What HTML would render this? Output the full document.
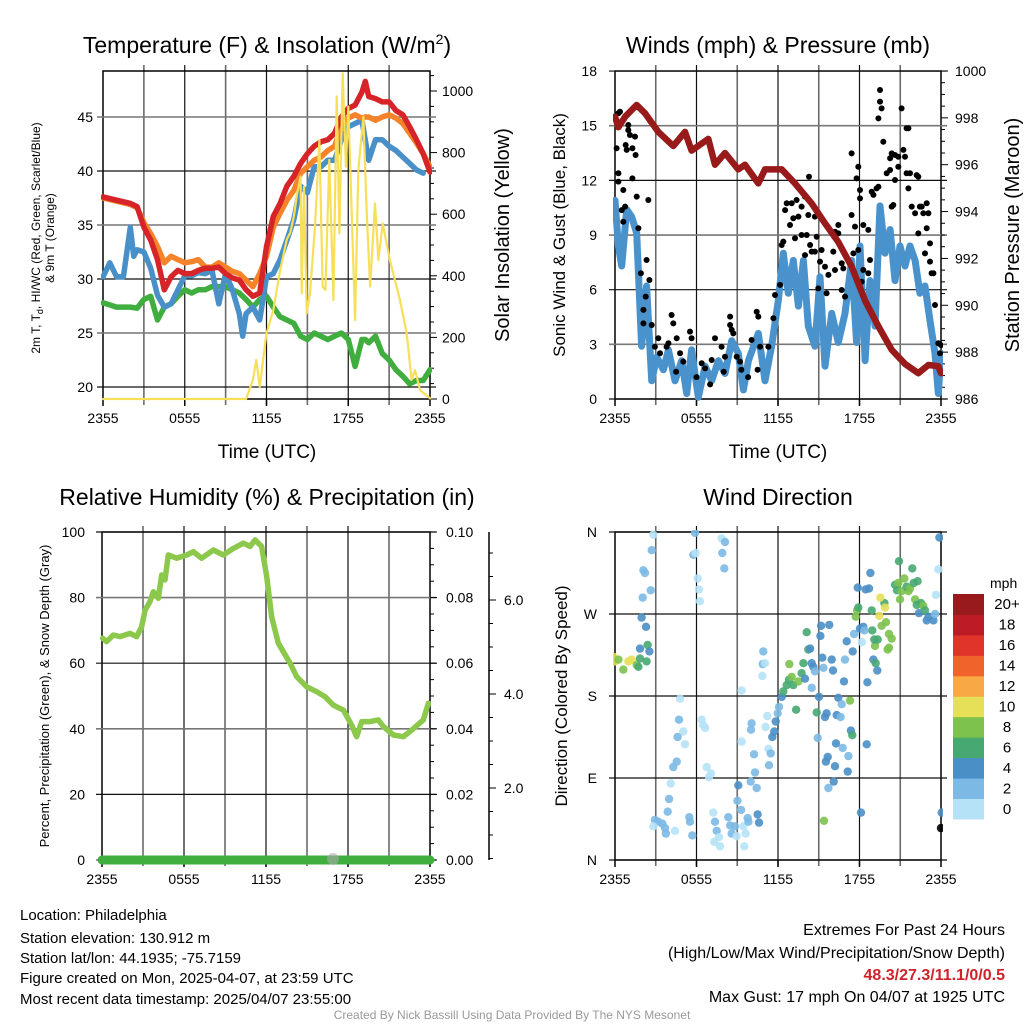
<!DOCTYPE html>
<html><head><meta charset="utf-8"><style>
html,body{margin:0;padding:0;background:#fff;}
svg{display:block;font-family:"Liberation Sans",Arial,sans-serif;}
</style></head><body>
<svg id="root" width="1024" height="1024" viewBox="0 0 1024 1024" xmlns="http://www.w3.org/2000/svg">
<rect x="0" y="0" width="1024" height="1024" fill="#fff"/>
<text x="267" y="53" font-size="23" text-anchor="middle">Temperature (F) &amp; Insolation (W/m<tspan font-size="14" dy="-9">2</tspan><tspan dy="9">)</tspan></text>
<text x="778" y="53" font-size="23" text-anchor="middle">Winds (mph) &amp; Pressure (mb)</text>
<text x="267" y="505" font-size="23" text-anchor="middle">Relative Humidity (%) &amp; Precipitation (in)</text>
<text x="778" y="505" font-size="23" text-anchor="middle">Wind Direction</text>
<text transform="translate(40,238) rotate(-90)" font-size="12" text-anchor="middle">2m T, T<tspan font-size="9" dy="3">d</tspan><tspan dy="-3">, HI/WC (Red, Green, Scarlet/Blue)</tspan></text>
<text transform="translate(54,238) rotate(-90)" font-size="12" text-anchor="middle">&amp; 9m T (Orange)</text>
<text transform="translate(509,235) rotate(-90)" font-size="20" text-anchor="middle">Solar Insolation (Yellow)</text>
<text transform="translate(565,235) rotate(-90)" font-size="17" text-anchor="middle">Sonic Wind &amp; Gust (Blue, Black)</text>
<text transform="translate(1019,235) rotate(-90)" font-size="20" text-anchor="middle">Station Pressure (Maroon)</text>
<text transform="translate(49,696) rotate(-90)" font-size="13" text-anchor="middle">Percent, Precipitation (Green), &amp; Snow Depth (Gray)</text>
<text transform="translate(567,696) rotate(-90)" font-size="17" text-anchor="middle">Direction (Colored By Speed)</text>
<text x="267" y="458" font-size="19" text-anchor="middle">Time (UTC)</text>
<text x="778" y="458" font-size="19" text-anchor="middle">Time (UTC)</text>
<g font-size="15">
<text x="20" y="920">Location: Philadelphia</text>
<text x="20" y="943">Station elevation: 130.912 m</text>
<text x="20" y="963">Station lat/lon: 44.1935; -75.7159</text>
<text x="20" y="983">Figure created on Mon, 2025-04-07, at 23:59 UTC</text>
<text x="20" y="1004">Most recent data timestamp: 2025/04/07 23:55:00</text>
</g>
<g font-size="16" text-anchor="end">
<text x="1005" y="935">Extremes For Past 24 Hours</text>
<text x="1005" y="958">(High/Low/Max Wind/Precipitation/Snow Depth)</text>
<text x="1005" y="980" fill="#d0222a" font-weight="bold">48.3/27.3/11.1/0/0.5</text>
<text x="1005" y="1002">Max Gust: 17 mph On 04/07 at 1925 UTC</text>
</g>
<text x="512" y="1019" font-size="12" fill="#999" text-anchor="middle">Created By Nick Bassill Using Data Provided By The NYS Mesonet</text>
</svg>
<script>
// ---------- DATA ----------
const tickHourLabels = ["2355","0555","1155","1755","2355"];
const tempLeftTicks = [20,25,30,35,40,45];
const solarTicks = [0,200,400,600,800,1000];
const windTicks = [0,3,6,9,12,15,18];
const presTicks = [986,988,990,992,994,996,998,1000];
const rhTicks = [0,20,40,60,80,100];
const precipTicks = ["0.00","0.02","0.04","0.06","0.08","0.10"];
const snowTicks = ["2.0","4.0","6.0"];
const dirTicks = ["N","E","S","W","N"];
const speedBinLabels = ["0","2","4","6","8","10","12","14","16","18","20+"];
const speedBinColors = ["#b6e2f7","#7cb9e4","#4b8fc7","#47a872","#7cc24c","#e6e058","#f8a845","#f0632a","#e0342a","#bd1c24","#981a1d"];

const tempHours = [0,1,2,2.5,3,3.5,4,4.5,5,5.5,6,6.5,7,7.5,8,8.5,9,9.5,10,10.5,11,11.5,12,12.5,13,13.5,14,14.5,15,15.5,16,16.5,17,17.5,18,18.5,19,19.25,19.5,20,20.5,21,21.5,22,22.5,23,23.5,24];
const redTemp = [37.6,37.3,37.0,36.7,34.8,33.6,31.8,29.0,30.2,30.8,30.5,30.5,30.8,31.0,31.0,31.1,30.5,30.1,29.9,29.0,28.4,28.7,33.0,35.8,37.0,38.6,39.5,40.7,41.6,42.3,42.7,42.9,43.5,45.0,45.8,46.1,47.3,48.3,46.9,46.7,46.4,46.4,45.6,45.2,44.1,42.9,41.6,39.9];
const orangeTemp = [37.5,37.2,36.9,36.6,35.2,34.2,33.0,31.5,32.1,31.8,31.5,31.6,31.8,31.1,31.1,31.5,31.1,30.7,30.5,29.9,29.3,30.5,32.1,34.8,36.1,37.3,38.2,39.8,40.4,41.0,41.3,41.9,42.3,44.1,44.9,45.2,44.9,45.0,45.0,44.7,45.0,45.2,44.9,44.4,43.5,42.6,41.6,40.4];
const blueHours = [0,0.5,1,1.5,2,2.25,2.5,3,3.5,4,4.5,5,5.5,6,6.5,7,7.5,8,8.5,9,9.5,10,10.25,10.5,11,11.5,12,12.5,13,13.5,14,14.5,15,15.5,16,16.5,17,17.5,18,18.5,19,19.5,20,20.5,21,21.5,22,22.5,23,23.5];
const blueTemp = [30.2,31.5,30.2,30.2,34.8,32.1,32.7,32.5,31.0,28.5,27.4,27.7,29.0,30.3,30.3,30.6,30.5,30.8,27.7,30.5,29.0,26.8,24.7,26.8,27.4,26.2,30.2,30.5,31.8,33.6,35.5,38.6,38.0,40.4,40.4,41.0,41.0,42.9,44.1,44.4,44.7,41.0,42.9,42.9,42.3,41.9,41.3,40.7,40.1,39.8];
const greenTemp = [27.8,27.4,27.4,27.3,28.1,28.4,26.2,27.4,27.7,28.4,29.0,28.7,29.0,29.0,29.3,29.3,29.3,29.0,28.7,28.1,27.4,28.1,28.4,27.4,26.5,26.2,25.9,24.7,24.4,25.0,24.7,24.4,24.7,25.0,24.4,21.9,24.4,24.4,24.1,24.7,23.1,22.5,21.6,21.0,20.3,20.6,20.6,21.6];
const solarHours = [0,10.5,11,11.25,11.5,11.75,12,12.5,13,13.5,13.75,14,14.25,14.5,14.58,14.75,14.95,15.19,15.56,15.88,16.12,16.32,16.61,16.91,17.15,17.35,17.59,17.83,18.0,18.25,18.5,18.74,19.11,19.35,19.6,19.96,20.21,20.53,21.06,21.8,22.29,22.65,22.9,23.27,24];
const solarValues = [0,0,62,127,40,127,213,288,418,519,540,592,668,722,343,689,278,343,560,841,365,354,776,321,982,538,1057,754,949,603,256,743,917,614,365,635,451,570,451,321,213,62,94,29,2];

const windHours = [0,0.25,0.49,0.86,1.23,1.6,1.96,2.33,2.7,3.07,3.56,3.93,4.42,4.91,5.28,5.64,6.13,6.63,7.12,7.61,8.1,8.59,9.08,9.45,9.82,10.55,11.04,11.53,12.02,12.39,12.76,13.13,13.5,13.87,14.23,14.72,15.09,15.46,15.95,16.44,16.93,17.42,17.79,18.04,18.41,18.77,19.14,19.51,19.88,20.25,20.61,20.98,21.35,21.72,22.09,22.45,22.82,23.19,23.56,23.8,24];
const windSpeed = [10.9,8.4,7.3,10.4,10.0,9.1,2.9,6.2,1.0,2.3,1.6,2.7,1.0,2.1,0.3,2.7,0.1,1.8,1.0,2.1,1.4,3.2,2.5,0.5,2.1,3.6,1.0,2.9,5.4,8.0,5.8,7.6,5.1,7.6,4.0,2.9,6.7,1.8,4.7,3.1,4.7,7.6,3.1,8.4,2.1,6.5,4.0,10.6,8.0,9.3,6.5,8.4,7.3,8.4,7.6,5.8,6.2,4.3,2.5,0.3,2.5];
const gustHours = [0.25,0.37,0.12,0.25,0.25,0.61,0.49,0.61,0.74,0.79,0.98,0.98,1.10,0.86,1.28,1.47,1.52,1.28,1.60,1.72,2.45,2.33,1.91,2.53,2.26,2.09,2.09,2.70,3.19,2.94,3.31,3.93,3.80,4.17,4.29,4.54,4.79,5.03,5.52,5.64,6.38,6.63,7.12,7.36,7.85,8.10,8.47,8.47,8.59,8.71,8.96,9.20,10.06,10.43,10.55,10.68,11.29,11.66,11.78,12.15,12.27,12.39,12.52,12.64,13.01,13.37,13.74,13.99,14.28,12.88,13.13,13.50,13.25,13.74,14.11,14.36,13.99,14.48,14.85,14.72,14.23,14.72,15.21,15.09,15.46,15.71,16.20,16.44,16.20,16.07,16.69,16.81,16.44,17.42,17.79,17.91,18.04,18.04,17.42,17.67,18.28,18.65,18.77,18.28,18.65,17.91,17.55,14.97,15.58,16.69,16.93,18.16,18.90,19.02,19.26,19.39,19.39,19.63,19.51,19.51,19.75,20.25,20.37,20.25,20.00,20.61,20.86,20.86,20.61,20.37,20.49,21.10,21.23,21.35,21.47,21.60,21.47,21.72,21.60,21.84,22.09,22.21,22.33,22.45,22.58,22.70,22.95,23.07,22.95,22.33,23.19,22.82,23.19,23.31,23.44,23.56,23.80,24.0,23.93,4.5,6.0,7.0,8.0,9.3,9.8,10.5];
const gustSpeed = [15.68,15.77,13.76,12.39,11.93,11.47,10.37,9.73,10.56,13.94,15.04,14.76,14.49,13.67,13.76,14.40,13.39,12.11,11.11,9.37,10.92,7.63,6.90,6.53,5.62,4.89,4.15,4.06,3.33,2.87,2.51,3.06,2.87,4.61,4.15,3.33,2.51,2.05,3.70,3.33,1.96,1.68,2.14,3.33,2.87,2.32,4.52,4.06,3.79,3.60,2.32,2.05,3.24,4.79,4.52,2.87,2.87,4.43,5.71,6.26,8.45,8.64,10.37,10.74,10.74,10.92,10.56,11.11,12.20,9.55,9.92,10.01,8.82,9.00,9.00,8.45,7.90,8.09,8.91,10.01,10.10,8.09,8.18,7.54,7.26,6.81,7.08,9.09,9.18,8.09,7.45,7.17,9.55,13.48,12.11,12.75,11.47,11.01,10.10,9.46,9.55,9.28,7.63,7.08,6.90,8.18,7.99,6.07,5.80,5.98,5.62,6.44,11.38,11.20,11.56,11.65,15.40,15.95,16.32,16.96,14.12,13.21,13.48,12.57,12.39,13.39,13.30,12.75,12.02,10.56,10.65,15.95,13.67,13.30,14.86,14.86,12.39,12.39,11.56,10.56,10.19,12.29,12.20,10.56,10.56,10.19,10.74,10.19,9.37,9.09,8.54,7.99,7.54,6.90,6.90,5.16,3.06,2.96,2.51,1.5,1.2,0.8,1.5,1.6,1.2,1.6];
const presHours = [0,0.25,0.74,1.59,2.21,3.19,4.29,5.15,5.64,6.87,7.36,8.1,9.08,9.57,10.55,11.04,12.27,13.25,14.48,15.46,16.44,17.42,18.41,19.39,20.37,21.35,22.33,23.07,23.8,24];
const presValues = [998.05,997.6,998.05,998.55,998.2,997.4,996.8,997.4,996.6,997.1,996.0,996.5,995.8,996.0,995.2,995.8,995.8,995.2,994.35,993.5,992.7,991.65,990.2,989.1,988.1,987.5,987.1,987.45,987.4,987.1];

const rhHours = [0.05,0.34,0.83,1.32,2.05,2.54,2.9,3.15,3.51,3.76,4.12,4.37,4.61,4.85,5.46,6.2,6.68,7.29,8.15,8.88,9.61,10.34,10.83,11.2,11.68,12.05,12.41,12.9,13.76,14.24,14.98,15.71,16.32,16.93,17.66,18.27,18.63,19.0,19.61,20.22,20.58,21.32,22.05,22.66,23.51,23.88];
const rhValues = [67.6,66.6,68.6,68.1,69.1,68.1,71.1,76.2,78.8,81.8,79.8,86.9,85.4,93.0,92.0,93.0,94.0,92.0,94.5,93.0,95.0,96.6,95.6,97.6,95.6,86.4,74.2,66.1,60.0,55.9,52.8,51.3,49.8,47.2,45.7,41.1,37.6,42.2,42.2,42.7,40.7,38.1,37.6,39.6,42.7,47.8];
const precipHours = [0,24];
const precipValues = [0,0];

const dirHours = [-0.12,0,0.25,0.61,0.98,1.23,1.6,1.72,1.84,2.33,2.4,1.84,2.53,2.28,1.96,2.82,2.7,2.09,2.21,2.63,2.04,5.89,5.77,5.94,6.09,6.18,6.26,7.85,8.1,7.9,8.05,4.79,4.71,5.03,4.61,5.15,6.38,6.5,6.63,4.54,4.29,4.1,3.98,3.88,2.94,3.19,3.48,3.68,2.82,3.75,4.42,5.47,5.52,5.69,6.75,6.92,7.07,7.24,7.36,7.49,7.31,7.73,7.66,8.34,8.47,8.59,8.83,8.96,9.08,9.01,9.28,9.45,9.62,9.52,9.77,9.82,10.5,10.6,9.33,9.33,9.99,10.43,10.31,10.23,10.01,10.06,11.09,11.21,11.29,11.46,11.34,10.87,11.04,10.85,10.92,11.58,11.73,11.83,11.98,12.07,12.27,12.39,12.64,12.81,13.01,13.13,13.5,13.74,13.87,14.23,14.11,12.83,13.33,13.99,14.36,14.48,14.6,14.72,14.48,15.02,14.85,14.92,15.12,15.17,15.26,15.34,15.78,15.95,16.05,15.46,15.58,15.66,15.53,16.2,16.27,16.44,16.69,16.32,16.61,16.76,17.18,17.13,16.86,16.93,17.06,17.5,17.6,17.3,17.37,17.47,17.87,17.72,17.82,17.91,18.04,18.28,18.36,18.18,18.45,18.7,18.8,18.9,18.94,19.14,19.09,19.34,19.02,19.19,19.31,18.58,18.53,18.11,16.1,15.71,15.39,19.83,19.88,19.53,19.46,19.63,19.95,20.17,20.37,20.17,20.07,20.91,20.61,20.86,20.76,20.98,21.1,21.3,21.6,21.47,21.72,21.99,21.89,22.28,22.09,22.21,22.53,22.7,22.38,22.82,22.95,23.07,23.44,23.56,23.63,23.8,23.88,24.05,24.0];
const dirDegs = [223,218,220,209,218,220,214,212,221,218,236,232,229,256,266,357,340,318,315,296,288,359,335,337,309,297,284,353,349,337,320,177,154,141,135,127,154,148,145,108,102,84,67,53,44,42,40,35,37,29,32,47,42,27,102,91,95,52,42,32,20,15,25,47,38,29,37,26,82,65,55,37,29,15,46,42,50,41,186,130,86,79,96,116,143,150,146,158,122,117,104,215,216,202,229,135,141,152,161,168,179,185,192,198,201,192,196,205,216,231,250,215,165,199,232,216,212,207,189,179,162,134,246,257,222,211,258,220,208,157,161,113,108,103,128,178,171,159,157,123,114,97,196,220,240,229,248,175,142,137,299,267,274,277,254,256,252,239,297,298,315,274,252,235,242,242,220,216,208,195,127,52,86,79,43,282,277,288,268,257,261,248,243,233,231,328,302,304,296,286,295,309,295,300,298,304,320,306,286,280,282,279,271,274,263,267,263,270,291,319,354,52,35];
const dirSpeeds = [11,11,9,9,11,11,9,7,7,7,7,5,5,5,5,1,3,3,3,3,3,3,3,1,1,1,1,1,3,3,3,1,3,1,3,1,1,1,1,3,3,1,3,3,3,3,3,3,1,3,1,3,3,3,1,1,1,1,3,3,1,1,1,3,3,3,3,1,5,3,3,1,1,1,3,3,5,5,1,1,3,3,3,3,3,3,1,1,1,3,3,3,1,1,3,5,5,5,3,3,5,7,7,7,9,7,9,7,7,7,7,9,7,5,5,5,5,3,3,5,7,3,5,5,5,3,5,5,5,5,5,5,5,5,5,5,3,5,3,3,3,5,5,3,5,5,3,9,5,7,5,9,9,7,5,5,3,1,5,5,5,7,7,9,7,7,5,7,5,5,5,5,5,3,9,7,11,11,11,9,9,9,9,9,9,7,7,9,7,9,9,9,9,7,9,7,6,7,9,7,7,9,5,7,5,5,5,3,1,1,5,5];

// ---------- HELPERS ----------
const NS = "http://www.w3.org/2000/svg";
const root = document.getElementById("root");
function mk(tag, parent, attrs){ const e=document.createElementNS(NS,tag); for(const k in attrs) e.setAttribute(k,attrs[k]); parent.appendChild(e); return e; }

const P1 = {x0:103,x1:430,y0:71,y1:399};
const P2 = {x0:615,x1:941,y0:71,y1:399};
const P3 = {x0:102,x1:430,y0:532,y1:860};
const P4 = {x0:615,x1:941,y0:532,y1:860};
const hx = P => h => P.x0 + h*(P.x1-P.x0)/24;
const x1 = hx(P1), x2 = hx(P2), x3 = hx(P3), x4 = hx(P4);
const tempY = v => 117 + (45 - v)*10.8;
const solarY = w => 399 - w*0.308;
const windY = v => 399 - v*18.22;
const presY = p => 399 - (p-986)*23.43;
const rhY = r => 860 - r*3.28;
const precipY = p => 860 - p*3280;
const dirY = d => 860 - d*328/360;

function frame(P, name){
  const g = mk("g", root, {});
  
  
  for(let i=1;i<8;i++){
    const x = P.x0 + i*(P.x1-P.x0)/8;
    const l = mk("line", g, {x1:x,x2:x,y1:P.y0-6,y2:P.y1+6,stroke:i%2? "#6a6a6a":"#111","stroke-width":i%2?1.6:1.2});
    
    
  }
  const r = mk("rect", g, {x:P.x0,y:P.y0,width:P.x1-P.x0,height:P.y1-P.y0,fill:"none",stroke:"#000","stroke-width":1.5});
  
  
  tickHourLabels.forEach((lab,i)=>{
    const x = P.x0 + i*(P.x1-P.x0)/4;
    mk("line", g, {x1:x,x2:x,y1:P.y1,y2:P.y1+7,stroke:"#000","stroke-width":1.5});
    const t = mk("text", g, {x:x,y:P.y1+24,"font-size":14,"text-anchor":"middle"});
    t.textContent = lab;
    
    
  });
  return g;
}
function hline(g, x0, x1, y, dark){
  const l = mk("line", g, {x1:x0-6,x2:x1+6,y1:y,y2:y,stroke:dark?"#111":"#777","stroke-width":dark?1.2:1.6});
  
  
}
function label(g, x, y, txt, anchor, size){
  const t = mk("text", g, {x:x,y:y+5,"font-size":size||14,"text-anchor":anchor});
  t.textContent = txt;
  
  
}
function series(g, xs, ys, xf, yf, color, w, name){
  const d = xs.map((h,i)=>(i?"L":"M")+xf(h).toFixed(1)+","+yf(ys[i]).toFixed(1)).join("");
  const p = mk("path", g, {d:d,fill:"none",stroke:color,"stroke-width":w,"stroke-linejoin":"round","stroke-linecap":"round"});
  
  
  return p;
}
function clip(P, id){
  const defs = mk("defs", root, {});
  const c = mk("clipPath", defs, {id:id});
  mk("rect", c, {x:P.x0-2,y:P.y0-2,width:P.x1-P.x0+4,height:P.y1-P.y0+4});
}

// ---------- PANEL 1: Temperature ----------
const g1 = frame(P1, 'temperature-panel');
tempLeftTicks.forEach(v=>{ hline(g1,P1.x0,P1.x1,tempY(v), v%10===0); label(g1,P1.x0-10,tempY(v),String(v),"end"); });
for(let w=0; w<=1050; w+=50){ mk("line", g1, {x1:P1.x1,x2:P1.x1+(w%200===0?7:4),y1:solarY(w),y2:solarY(w),stroke:"#000","stroke-width":1}); }
solarTicks.forEach(w=> label(g1,P1.x1+12,solarY(w),String(w),"start"));
clip(P1,"c1");
const s1 = mk("g", root, {"clip-path":"url(#c1)"});
series(s1, tempHours, greenTemp, x1, tempY, "#3fae3f", 5.5, 'dewpoint-line');
series(s1, blueHours, blueTemp, x1, tempY, "#4a90c8", 5.5, 'wind-chill-line');
series(s1, tempHours, orangeTemp, x1, tempY, "#f5832a", 5.5, 'temp-9m-line');
series(s1, tempHours, redTemp, x1, tempY, "#d62428", 5.5, 'temp-2m-line');
series(s1, solarHours, solarValues, x1, solarY, "#f8df5a", 2.2, 'solar-insolation-line');

// ---------- PANEL 2: Winds ----------
const g2 = frame(P2, 'winds-panel');
windTicks.forEach((v,i)=>{ hline(g2,P2.x0,P2.x1,windY(v), i%2===0); label(g2,P2.x0-18,windY(v),String(v),"end"); });
for(let p=986; p<=1000; p+=0.5){ mk("line", g2, {x1:P2.x1,x2:P2.x1+(p%2===0?7:4),y1:presY(p),y2:presY(p),stroke:"#000","stroke-width":1}); }
presTicks.forEach(p=> label(g2,P2.x1+14,presY(p),String(p),"start"));
clip(P2,"c2");
const s2 = mk("g", root, {"clip-path":"url(#c2)"});
series(s2, windHours, windSpeed, x2, windY, "#4a92cc", 7, 'sonic-wind-line');
gustHours.forEach((h,i)=>{
  const c = mk("circle", s2, {cx:x2(h).toFixed(1), cy:windY(gustSpeed[i]).toFixed(1), r:3, fill:"#000"});
  
  
});
series(s2, presHours, presValues, x2, presY, "#981a1a", 6.5, 'pressure-line');

// ---------- PANEL 3: RH ----------
const g3 = frame(P3, 'humidity-panel');
rhTicks.forEach((v,i)=>{ hline(g3,P3.x0,P3.x1,rhY(v), i%2===1); label(g3,P3.x0-17,rhY(v),String(v),"end"); });
for(let i=0;i<=20;i++){ const y=P3.y1-i*(P3.y1-P3.y0)/20; mk("line", g3, {x1:P3.x1,x2:P3.x1+(i%4===0?7:4),y1:y,y2:y,stroke:"#000","stroke-width":1}); }
precipTicks.forEach((t,i)=> label(g3,P3.x1+16,rhY(i*20),t,"start"));
const snowAxis = mk("line", g3, {x1:489,x2:489,y1:P3.y0,y2:P3.y1,stroke:"#000","stroke-width":1.5});


const snowY = s => 882 - s*47;
for(let s=0.5; s<=7.5; s+=0.5){ const y=snowY(s); if(y<P3.y0||y>P3.y1) continue; mk("line", g3, {x1:489,x2:489+(s%2===0?7:4),y1:y,y2:y,stroke:"#000","stroke-width":1}); }
snowTicks.forEach(t=> label(g3,504,snowY(parseFloat(t)),t,"start"));
const s3 = mk("g", root, {});
series(s3, rhHours, rhValues, x3, rhY, "#8cc84b", 5.5, 'relative-humidity-line');
series(s3, precipHours, precipValues, x3, precipY, "#3fae3f", 9, 'precipitation-line');
const sd = mk("circle", s3, {cx:x3(16.9), cy:859, r:6, fill:"#aaa", opacity:0.6});



// ---------- PANEL 4: Direction ----------
const g4 = frame(P4, 'wind-direction-panel');
dirTicks.forEach((t,i)=>{ hline(g4,P4.x0,P4.x1,dirY(i*90), true); label(g4,P4.x0-18,dirY(i*90),t,"end"); });
clip(P4,"c4");
const s4 = mk("g", root, {"clip-path":"url(#c4)"});
dirHours.forEach((h,i)=>{
  const bin = Math.min(10, Math.floor(dirSpeeds[i]/2));
  const c = mk("circle", s4, {cx:x4(h).toFixed(1), cy:dirY(dirDegs[i]).toFixed(1), r:4.2, fill:speedBinColors[bin], opacity:0.9});
  
  
});
// colorbar
const cb = mk("g", root, {});


const cbTop = 594, cbH = 225/11;
const mphT = mk("text", cb, {x:990,y:588,"font-size":14});
mphT.textContent = "mph";
speedBinLabels.forEach((lab,i)=>{
  const r = mk("rect", cb, {x:953,y:cbTop + (10-i)*cbH,width:31,height:cbH+0.5,fill:speedBinColors[i]});
  
  
  const t = mk("text", cb, {x:1007,y:cbTop + (10-i)*cbH + cbH/2 + 5,"font-size":15,"text-anchor":"middle"});
  t.textContent = lab;
  
  
});
</script>
</body></html>
